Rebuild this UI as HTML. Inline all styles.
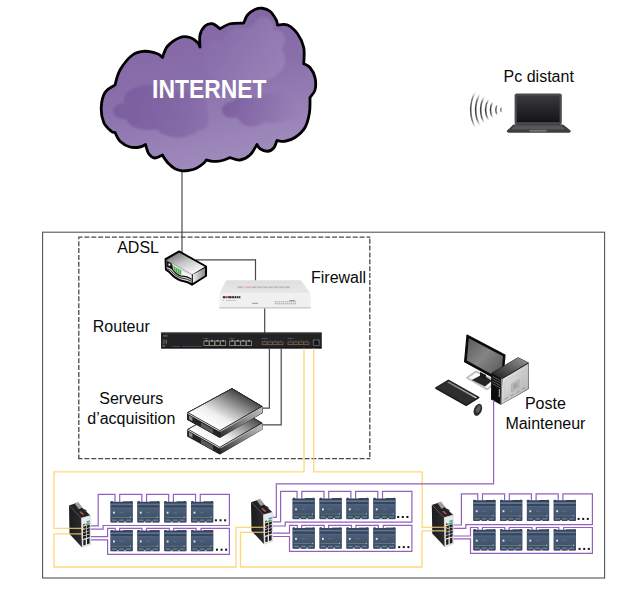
<!DOCTYPE html>
<html><head><meta charset="utf-8"><title>Reseau</title>
<style>
html,body{margin:0;padding:0;background:#fff;}
body{width:640px;height:602px;overflow:hidden;font-family:"Liberation Sans",sans-serif;}
svg{display:block;}
text{font-family:"Liberation Sans",sans-serif;}
</style></head><body>
<svg width="640" height="602" viewBox="0 0 640 602">
<defs>
<linearGradient id="cg" x1="0" y1="0" x2="0.35" y2="1">
<stop offset="0" stop-color="#7d61a0"/><stop offset="0.55" stop-color="#8a70ab"/><stop offset="1" stop-color="#9f8abc"/>
</linearGradient>
<linearGradient id="cg2" gradientUnits="userSpaceOnUse" x1="113" y1="100" x2="215" y2="135">
<stop offset="0" stop-color="#795c9d"/><stop offset="0.6" stop-color="#8368a6"/><stop offset="1" stop-color="#8d74ae"/>
</linearGradient>
<linearGradient id="cg3" gradientUnits="userSpaceOnUse" x1="222" y1="100" x2="300" y2="125">
<stop offset="0" stop-color="#7b5e9f"/><stop offset="0.5" stop-color="#8a70ab"/><stop offset="1" stop-color="#9a84b8"/>
</linearGradient>
<linearGradient id="cg4" gradientUnits="userSpaceOnUse" x1="205" y1="25" x2="285" y2="80">
<stop offset="0" stop-color="#856aa7"/><stop offset="0.5" stop-color="#8f76af"/><stop offset="1" stop-color="#9a84b8"/>
</linearGradient>
<clipPath id="cclip"><path d="M115 85 C115.83 82.5 117.08 75 120 70 C122.92 65 128.33 58.12 132.5 55 C136.67 51.88 140.83 51.46 145 51.25 C149.17 51.04 154.58 52.71 157.5 53.75 C160.42 54.79 161.67 56.88 162.5 57.5 C163.33 55.62 164.58 49.58 167.5 46.25 C170.42 42.92 176.25 38.96 180 37.5 C183.75 36.04 187.08 36.67 190 37.5 C192.92 38.33 195.83 40.92 197.5 42.5 C199.17 44.08 199.58 46.25 200 47 C200 45 199.17 38.5 200 35 C200.83 31.5 202.92 27.88 205 26 C207.08 24.12 210 23.29 212.5 23.75 C215 24.21 218.75 27.92 220 28.75 C221.67 27.92 226.04 24.71 230 23.75 C233.96 22.79 241.46 23.12 243.75 23 C244.38 21.67 245.62 17.25 247.5 15 C249.38 12.75 252.5 10.62 255 9.5 C257.5 8.38 260 7.96 262.5 8.25 C265 8.54 267.71 9.29 270 11.25 C272.29 13.21 275 17.71 276.25 20 C277.5 22.29 277.29 24.17 277.5 25 C279.17 25 284.17 23.54 287.5 25 C290.83 26.46 294.79 30 297.5 33.75 C300.21 37.5 302.71 42.5 303.75 47.5 C304.79 52.5 303.75 61.04 303.75 63.75 C304.79 64.38 308.12 65.21 310 67.5 C311.88 69.79 314.17 73.75 315 77.5 C315.83 81.25 315.83 86.67 315 90 C314.17 93.33 310.83 96.25 310 97.5 C309.92 100 310.33 107.5 309.5 112.5 C308.67 117.5 307.42 123.33 305 127.5 C302.58 131.67 298.33 135.21 295 137.5 C291.67 139.79 288 140.75 285 141.25 C282 141.75 278.33 140.62 277 140.5 C276.46 141.75 275.33 146.21 273.75 148 C272.17 149.79 269.79 151.12 267.5 151.25 C265.21 151.38 261.75 149.88 260 148.75 C258.25 147.62 257.5 145.21 257 144.5 C255.83 146.25 252.83 152.42 250 155 C247.17 157.58 243.33 159.57 240 160 C236.67 160.43 231.67 158 230 157.6 C229 158 226.17 159.37 224 160 C221.83 160.63 219.25 161.23 217 161.4 C214.75 161.57 212.29 161.23 210.5 161 C208.71 160.77 206.96 160.17 206.25 160 C205.71 160.63 204.62 162.43 203 163.8 C201.38 165.17 198.83 167.1 196.5 168.2 C194.17 169.3 191.42 169.97 189 170.4 C186.58 170.83 184.33 171.07 182 170.8 C179.67 170.53 177.25 170 175 168.8 C172.75 167.6 170.33 165.47 168.5 163.6 C166.67 161.73 165 159.03 164 157.6 C163 156.17 162.75 155.43 162.5 155 C161.25 155.5 157.29 158.21 155 158 C152.71 157.79 150.33 156 148.75 153.75 C147.17 151.5 146.04 146.04 145.5 144.5 C144.58 144.92 142.58 146.58 140 147 C137.42 147.42 133.33 147.96 130 147 C126.67 146.04 122.5 143.67 120 141.25 C117.5 138.83 115.83 133.96 115 132.5 C114.38 132.29 113.12 132.92 111.25 131.25 C109.38 129.58 105.42 126.46 103.75 122.5 C102.08 118.54 101.04 112.5 101.25 107.5 C101.46 102.5 102.71 96.25 105 92.5 C107.29 88.75 113.33 86.25 115 85 Z"/></clipPath>
<filter id="b1" x="-20%" y="-20%" width="140%" height="140%"><feGaussianBlur stdDeviation="0.8"/></filter>
<filter id="b05" x="-20%" y="-20%" width="140%" height="140%"><feGaussianBlur stdDeviation="0.45"/></filter>
<filter id="b03" x="-20%" y="-20%" width="140%" height="140%"><feGaussianBlur stdDeviation="0.3"/></filter>
<linearGradient id="mg" x1="0" y1="0" x2="0" y2="1">
<stop offset="0" stop-color="#4c5f7a"/><stop offset="1" stop-color="#41526b"/></linearGradient>
<g id="mod" filter="url(#b03)">
<rect x="0" y="0.6" width="22.4" height="20.8" rx="1" fill="#43546d"/>
<rect x="0.2" y="0" width="2.4" height="2.4" rx="0.6" fill="#33435a"/>
<rect x="19.8" y="0" width="2.4" height="2.4" rx="0.6" fill="#33435a"/>
<rect x="12.5" y="0.3" width="7.5" height="1.2" fill="#2f3e54"/>
<rect x="0.3" y="1.1" width="21.8" height="1.5" fill="#33435a"/>
<rect x="0.3" y="2.5" width="21.8" height="1.8" fill="#62758f"/>
<rect x="0.3" y="4.3" width="21.8" height="2.3" fill="#34445b"/>
<rect x="0.3" y="6.6" width="21.8" height="9.6" fill="url(#mg)"/>
<rect x="0.3" y="6.6" width="21.8" height="0.6" fill="#5a6d88"/>
<rect x="2.6" y="10.6" width="1.8" height="1.9" fill="#e6ebf2"/>
<rect x="9" y="10.6" width="4" height="1.6" fill="#55688300"/>
<rect x="9.2" y="10.8" width="3.6" height="1.3" fill="#566a86"/>
<rect x="1.5" y="16" width="17.5" height="0.7" fill="#6f8a76"/>
<rect x="19.4" y="15.6" width="1.2" height="1.4" fill="#aeb9c8"/>
<rect x="0.3" y="16.9" width="21.8" height="4.3" fill="#3b4c65"/>
<rect x="1.5" y="18.4" width="4.8" height="1.4" fill="#6c7f98"/>
<rect x="8.6" y="18.4" width="4.8" height="1.4" fill="#6c7f98"/>
<rect x="15.6" y="18.4" width="5" height="1.4" fill="#6c7f98"/>
<rect x="6.6" y="20.4" width="1.8" height="1.1" fill="#fff" opacity="0.85"/>
<rect x="13.8" y="20.4" width="1.8" height="1.1" fill="#fff" opacity="0.85"/>
</g>
<linearGradient id="swl" x1="0" y1="0" x2="1" y2="0"><stop offset="0" stop-color="#1c1c1e"/><stop offset="1" stop-color="#2c2c2f"/></linearGradient>
<g id="isw">
<!-- left dark face -->
<path d="M0 0 L12.4 12.4 L13.1 41.9 L0.5 28.6 Z" fill="url(#swl)"/>
<!-- top face -->
<path d="M0 0 L8 -2.8 L21.4 9.9 L12.4 12.4 Z" fill="#232326"/>
<!-- top connector -->
<path d="M5.8 -1.8 L9.2 -3.6 L13.4 2 L9.8 3.8 Z" fill="#9c9c9e"/>
<path d="M7.2 -2.6 L8.6 -3.2 L9.6 -1.8 L8.2 -1.2 Z" fill="#d9a27c"/>
<path d="M10.4 6.4 L11.8 5.7 L15.2 8.8 L13.8 9.6 Z" fill="#c4554a"/>
<path d="M14.6 4.4 L16 3.8 L18 5.6 L16.6 6.2 Z" fill="#3a3a40"/>
<!-- front face -->
<path d="M12.4 12.4 L21.4 9.9 L21.7 39 L13.1 41.9 Z" fill="#e9e9ea"/>
<path d="M12.4 12.4 L21.4 9.9 L21.7 39 L13.1 41.9 Z" fill="none" stroke="#bdbdbf" stroke-width="0.4"/>
<!-- colour labels -->
<path d="M17.6 15.8 L20.8 14.8 L20.8 16.4 L17.6 17.4 Z" fill="#4a90d8"/>
<path d="M16.6 18.4 L20.8 17.1 L20.8 18.8 L16.6 20.1 Z" fill="#3fae4a"/>
<path d="M14.2 18.4 L16 17.9 L16 19.6 L14.2 20.1 Z" fill="#d8702e"/>
<path d="M14.2 18.9 L15.4 18.6 L15.4 19.6 L14.2 19.9 Z" fill="#222"/>
<!-- ports 2 cols x 4 rows -->
<g fill="#1d1d20">
<path d="M14 21.2 L17 20.3 L17 22.9 L14 23.8 Z"/><path d="M17.7 20.1 L20.8 19.2 L20.8 21.8 L17.7 22.7 Z"/>
<path d="M14 24.4 L17 23.5 L17 26.1 L14 27 Z"/><path d="M17.7 23.3 L20.8 22.4 L20.8 25 L17.7 25.9 Z"/>
<path d="M14 27.6 L17 26.7 L17 29.3 L14 30.2 Z"/><path d="M17.7 26.5 L20.8 25.6 L20.8 28.2 L17.7 29.1 Z"/>
<path d="M14 30.8 L17 29.9 L17 32.5 L14 33.4 Z"/><path d="M17.7 29.7 L20.8 28.8 L20.8 31.4 L17.7 32.3 Z"/>
<path d="M14.3 34.6 L16.7 33.9 L16.7 39.2 L14.3 40 Z"/><path d="M18 33.4 L20.6 32.6 L20.6 38 L18 38.8 Z"/>
</g>
</g>
</defs>
<rect width="640" height="602" fill="#fff"/>
<rect x="42.6" y="232.2" width="562" height="345.8" fill="none" stroke="#555" stroke-width="1.1"/>
<g fill="none" stroke="#4a4a4a" stroke-width="1.3" stroke-dasharray="5 1.88"><line x1="78.2" y1="237.2" x2="370.4" y2="237.2" stroke-dashoffset="0.7"/><line x1="78.2" y1="458.7" x2="370.4" y2="458.7" stroke-dashoffset="0.7"/><line x1="78.8" y1="237.2" x2="78.8" y2="458.7" stroke-dashoffset="2.85"/><line x1="369.8" y1="237.2" x2="369.8" y2="458.7" stroke-dashoffset="5.4"/></g>
<line x1="182" y1="168" x2="182" y2="253" stroke="#4a4a4a" stroke-width="1.2"/>
<path d="M115 85 C115.83 82.5 117.08 75 120 70 C122.92 65 128.33 58.12 132.5 55 C136.67 51.88 140.83 51.46 145 51.25 C149.17 51.04 154.58 52.71 157.5 53.75 C160.42 54.79 161.67 56.88 162.5 57.5 C163.33 55.62 164.58 49.58 167.5 46.25 C170.42 42.92 176.25 38.96 180 37.5 C183.75 36.04 187.08 36.67 190 37.5 C192.92 38.33 195.83 40.92 197.5 42.5 C199.17 44.08 199.58 46.25 200 47 C200 45 199.17 38.5 200 35 C200.83 31.5 202.92 27.88 205 26 C207.08 24.12 210 23.29 212.5 23.75 C215 24.21 218.75 27.92 220 28.75 C221.67 27.92 226.04 24.71 230 23.75 C233.96 22.79 241.46 23.12 243.75 23 C244.38 21.67 245.62 17.25 247.5 15 C249.38 12.75 252.5 10.62 255 9.5 C257.5 8.38 260 7.96 262.5 8.25 C265 8.54 267.71 9.29 270 11.25 C272.29 13.21 275 17.71 276.25 20 C277.5 22.29 277.29 24.17 277.5 25 C279.17 25 284.17 23.54 287.5 25 C290.83 26.46 294.79 30 297.5 33.75 C300.21 37.5 302.71 42.5 303.75 47.5 C304.79 52.5 303.75 61.04 303.75 63.75 C304.79 64.38 308.12 65.21 310 67.5 C311.88 69.79 314.17 73.75 315 77.5 C315.83 81.25 315.83 86.67 315 90 C314.17 93.33 310.83 96.25 310 97.5 C309.92 100 310.33 107.5 309.5 112.5 C308.67 117.5 307.42 123.33 305 127.5 C302.58 131.67 298.33 135.21 295 137.5 C291.67 139.79 288 140.75 285 141.25 C282 141.75 278.33 140.62 277 140.5 C276.46 141.75 275.33 146.21 273.75 148 C272.17 149.79 269.79 151.12 267.5 151.25 C265.21 151.38 261.75 149.88 260 148.75 C258.25 147.62 257.5 145.21 257 144.5 C255.83 146.25 252.83 152.42 250 155 C247.17 157.58 243.33 159.57 240 160 C236.67 160.43 231.67 158 230 157.6 C229 158 226.17 159.37 224 160 C221.83 160.63 219.25 161.23 217 161.4 C214.75 161.57 212.29 161.23 210.5 161 C208.71 160.77 206.96 160.17 206.25 160 C205.71 160.63 204.62 162.43 203 163.8 C201.38 165.17 198.83 167.1 196.5 168.2 C194.17 169.3 191.42 169.97 189 170.4 C186.58 170.83 184.33 171.07 182 170.8 C179.67 170.53 177.25 170 175 168.8 C172.75 167.6 170.33 165.47 168.5 163.6 C166.67 161.73 165 159.03 164 157.6 C163 156.17 162.75 155.43 162.5 155 C161.25 155.5 157.29 158.21 155 158 C152.71 157.79 150.33 156 148.75 153.75 C147.17 151.5 146.04 146.04 145.5 144.5 C144.58 144.92 142.58 146.58 140 147 C137.42 147.42 133.33 147.96 130 147 C126.67 146.04 122.5 143.67 120 141.25 C117.5 138.83 115.83 133.96 115 132.5 C114.38 132.29 113.12 132.92 111.25 131.25 C109.38 129.58 105.42 126.46 103.75 122.5 C102.08 118.54 101.04 112.5 101.25 107.5 C101.46 102.5 102.71 96.25 105 92.5 C107.29 88.75 113.33 86.25 115 85 Z" fill="url(#cg)"/>
<g clip-path="url(#cclip)">
<g filter="url(#b1)" fill="url(#cg4)"><ellipse cx="230" cy="62" rx="26" ry="20"/><ellipse cx="258" cy="48" rx="24" ry="22"/><ellipse cx="272" cy="60" rx="13" ry="15"/><ellipse cx="252" cy="70" rx="26" ry="13"/><ellipse cx="264" cy="27" rx="10" ry="10"/><ellipse cx="214" cy="52" rx="10" ry="12"/><ellipse cx="240" cy="40" rx="16" ry="12"/><ellipse cx="276" cy="40" rx="9" ry="10"/></g>
<g filter="url(#b1)" fill="url(#cg2)"><ellipse cx="125" cy="111" rx="12" ry="8"/><ellipse cx="148" cy="100" rx="24" ry="15"/><ellipse cx="150" cy="118" rx="24" ry="12"/><ellipse cx="178" cy="122" rx="24" ry="15.5"/><ellipse cx="185" cy="105" rx="22" ry="14"/><ellipse cx="200" cy="118" rx="9" ry="12"/></g>
<g filter="url(#b1)" fill="url(#cg3)"><ellipse cx="232" cy="110" rx="10" ry="8"/><ellipse cx="246" cy="108" rx="16" ry="12"/><ellipse cx="252" cy="116" rx="14" ry="10.5"/><ellipse cx="268" cy="106" rx="14" ry="13"/><ellipse cx="285" cy="106" rx="17" ry="14"/><ellipse cx="272" cy="116" rx="14" ry="7"/></g>
</g>
<path d="M115 85 C115.83 82.5 117.08 75 120 70 C122.92 65 128.33 58.12 132.5 55 C136.67 51.88 140.83 51.46 145 51.25 C149.17 51.04 154.58 52.71 157.5 53.75 C160.42 54.79 161.67 56.88 162.5 57.5 C163.33 55.62 164.58 49.58 167.5 46.25 C170.42 42.92 176.25 38.96 180 37.5 C183.75 36.04 187.08 36.67 190 37.5 C192.92 38.33 195.83 40.92 197.5 42.5 C199.17 44.08 199.58 46.25 200 47 C200 45 199.17 38.5 200 35 C200.83 31.5 202.92 27.88 205 26 C207.08 24.12 210 23.29 212.5 23.75 C215 24.21 218.75 27.92 220 28.75 C221.67 27.92 226.04 24.71 230 23.75 C233.96 22.79 241.46 23.12 243.75 23 C244.38 21.67 245.62 17.25 247.5 15 C249.38 12.75 252.5 10.62 255 9.5 C257.5 8.38 260 7.96 262.5 8.25 C265 8.54 267.71 9.29 270 11.25 C272.29 13.21 275 17.71 276.25 20 C277.5 22.29 277.29 24.17 277.5 25 C279.17 25 284.17 23.54 287.5 25 C290.83 26.46 294.79 30 297.5 33.75 C300.21 37.5 302.71 42.5 303.75 47.5 C304.79 52.5 303.75 61.04 303.75 63.75 C304.79 64.38 308.12 65.21 310 67.5 C311.88 69.79 314.17 73.75 315 77.5 C315.83 81.25 315.83 86.67 315 90 C314.17 93.33 310.83 96.25 310 97.5 C309.92 100 310.33 107.5 309.5 112.5 C308.67 117.5 307.42 123.33 305 127.5 C302.58 131.67 298.33 135.21 295 137.5 C291.67 139.79 288 140.75 285 141.25 C282 141.75 278.33 140.62 277 140.5 C276.46 141.75 275.33 146.21 273.75 148 C272.17 149.79 269.79 151.12 267.5 151.25 C265.21 151.38 261.75 149.88 260 148.75 C258.25 147.62 257.5 145.21 257 144.5 C255.83 146.25 252.83 152.42 250 155 C247.17 157.58 243.33 159.57 240 160 C236.67 160.43 231.67 158 230 157.6 C229 158 226.17 159.37 224 160 C221.83 160.63 219.25 161.23 217 161.4 C214.75 161.57 212.29 161.23 210.5 161 C208.71 160.77 206.96 160.17 206.25 160 C205.71 160.63 204.62 162.43 203 163.8 C201.38 165.17 198.83 167.1 196.5 168.2 C194.17 169.3 191.42 169.97 189 170.4 C186.58 170.83 184.33 171.07 182 170.8 C179.67 170.53 177.25 170 175 168.8 C172.75 167.6 170.33 165.47 168.5 163.6 C166.67 161.73 165 159.03 164 157.6 C163 156.17 162.75 155.43 162.5 155 C161.25 155.5 157.29 158.21 155 158 C152.71 157.79 150.33 156 148.75 153.75 C147.17 151.5 146.04 146.04 145.5 144.5 C144.58 144.92 142.58 146.58 140 147 C137.42 147.42 133.33 147.96 130 147 C126.67 146.04 122.5 143.67 120 141.25 C117.5 138.83 115.83 133.96 115 132.5 C114.38 132.29 113.12 132.92 111.25 131.25 C109.38 129.58 105.42 126.46 103.75 122.5 C102.08 118.54 101.04 112.5 101.25 107.5 C101.46 102.5 102.71 96.25 105 92.5 C107.29 88.75 113.33 86.25 115 85 Z" fill="none" stroke="#000" stroke-width="2.8" stroke-linejoin="round"/>
<text x="209.3" y="98.2" text-anchor="middle" font-size="25.4" font-weight="bold" fill="#fff" textLength="114.5" lengthAdjust="spacingAndGlyphs">INTERNET</text>
<text x="503.6" y="82" font-size="16" fill="#0a0a0a" text-anchor="start">Pc distant</text>
<text x="117.2" y="253" font-size="16" fill="#0a0a0a" text-anchor="start">ADSL</text>
<text x="311" y="282.8" font-size="16" fill="#0a0a0a" text-anchor="start">Firewall</text>
<text x="92.8" y="332" font-size="16" fill="#0a0a0a" text-anchor="start">Routeur</text>
<text x="131.3" y="404" font-size="16" fill="#0a0a0a" text-anchor="middle">Serveurs</text>
<text x="131.3" y="423.7" font-size="16" fill="#0a0a0a" text-anchor="middle">d’acquisition</text>
<text x="545.4" y="409.3" font-size="16" fill="#0a0a0a" text-anchor="middle">Poste</text>
<text x="545.4" y="428.8" font-size="16" fill="#0a0a0a" text-anchor="middle">Mainteneur</text>
<g>
<linearGradient id="lpscr" x1="0" y1="0" x2="0" y2="1"><stop offset="0" stop-color="#3a3a3c"/><stop offset="1" stop-color="#141416"/></linearGradient>
<rect x="514.6" y="93.4" width="47.2" height="31.6" rx="2.2" fill="#4b4b4e"/>
<rect x="516.8" y="95.6" width="42.8" height="26.6" fill="url(#lpscr)"/>
<path d="M513.4 124.4 L563 124.4 L570.6 130.6 Q571 132.6 568.6 132.8 L508.8 132.8 Q506.4 132.6 507 130.6 Z" fill="#3d3d40"/>
<path d="M515.2 125.6 L561.4 125.6 L565.6 129.4 L511 129.4 Z" fill="#58585c"/>
<rect x="529.6" y="130" width="17" height="1.6" fill="#77777b"/>
</g>
<linearGradient id="wfg" x1="0" y1="0" x2="0" y2="1"><stop offset="0" stop-color="#555" stop-opacity="0"/><stop offset="0.2" stop-color="#4a4a4a" stop-opacity="0.8"/><stop offset="0.5" stop-color="#3a3a3a" stop-opacity="1"/><stop offset="0.8" stop-color="#4a4a4a" stop-opacity="0.8"/><stop offset="1" stop-color="#555" stop-opacity="0"/></linearGradient>
<g fill="none" stroke="url(#wfg)" stroke-linecap="butt" filter="url(#b03)">
<path d="M501.39 106.91 A6.85 6.85 0 0 0 501.39 112.69" stroke-width="1.2" opacity="0.85"/>
<path d="M497.18 104.49 A11.7 11.7 0 0 0 497.18 115.11" stroke-width="1.4" opacity="0.95"/>
<path d="M492.59 101.82 A17 17 0 0 0 492.59 117.78" stroke-width="1.5" opacity="1"/>
<path d="M488.49 99.21 A21.85 21.85 0 0 0 488.49 120.39" stroke-width="1.6" opacity="1"/>
<path d="M484.14 96.53 A26.95 26.95 0 0 0 484.14 123.07" stroke-width="1.6" opacity="1"/>
<path d="M479.75 94.04 A32 32 0 0 0 479.75 125.56" stroke-width="1.6" opacity="1"/>
<path d="M475.28 91.89 A36.95 36.95 0 0 0 475.28 127.71" stroke-width="1.5" opacity="0.95"/>
</g>
<g>
<linearGradient id="adt" x1="0.1" y1="0" x2="0.8" y2="1"><stop offset="0" stop-color="#6a6a6a"/><stop offset="0.45" stop-color="#c4c4c4"/><stop offset="0.9" stop-color="#f7f7f7"/></linearGradient>
<linearGradient id="adr" x1="0" y1="0" x2="1" y2="0"><stop offset="0" stop-color="#f0f0f0"/><stop offset="1" stop-color="#8a8a8a"/></linearGradient>
<line x1="196" y1="259.9" x2="256" y2="259.9" stroke="#4a4a4a" stroke-width="1.2"/>
<line x1="255.5" y1="259.4" x2="255.5" y2="281" stroke="#4a4a4a" stroke-width="1.2"/>
<path d="M179.1 251.3 L206.2 266.4 L206.2 275.8 L192.1 284.8 Q188.4 282.2 184 281.4 Q177.6 280.4 172.6 275.6 Q169.4 271.8 165.8 269.8 L165.4 259 Z" fill="#0c0c0c" stroke="#000" stroke-width="1.7" stroke-linejoin="round"/>
<path d="M179.1 252.5 L204.8 266.8 L192.2 274.4 L166.6 260 Z" fill="url(#adt)"/>
<path d="M192.9 274.6 L205 268 L205 275.4 L192.9 283 Z" fill="url(#adr)"/>
<path d="M166.6 260 L191.7 274.2 L191.7 283 Q188 280.8 184 280.2 Q178 279.2 173.4 274.8 Q170 271 166.8 269 Z" fill="#d9d9d9"/>
<path d="M166.6 260.4 L171.6 263.2 Q173.4 266 172.8 269.4 Q170.4 268.6 166.8 266.6 Z" fill="#1a1a1a"/>
<rect x="168.5" y="263.6" width="1.8" height="2" fill="#fafafa"/>
<path d="M182 271 L191.5 275.2 L191.5 278.6 Q187 275.6 182 276 Z" fill="#f6f6f6"/>
<path d="M166.8 266.4 Q171 266.8 173.4 270.6 Q176.4 274.8 181.6 276.2 Q186.6 275.8 191.5 279.2" fill="none" stroke="#111" stroke-width="1.1"/>
<path d="M166.8 268.6 Q170.6 269.4 173.2 273.2 Q176.6 277.2 182 278.2 Q187 278.4 191.5 281.4" fill="none" stroke="#222" stroke-width="0.9"/>
<path d="M173.2 266.2 L181.2 270.5 L180.8 274.8 Q176.6 273.4 174 269.8 Z" fill="#2fb243"/>
<path d="M175.4 267.6 L175.8 270.6 M177.4 268.7 L177.6 272.2 M179.4 269.8 L179.4 273.6" stroke="#c9f3cd" stroke-width="0.55"/>
</g>
<g>
<linearGradient id="fwt" x1="0" y1="0" x2="0" y2="1"><stop offset="0" stop-color="#dedede"/><stop offset="1" stop-color="#e8e8e8"/></linearGradient>
<line x1="264.7" y1="308" x2="264.7" y2="333" stroke="#4a4a4a" stroke-width="1.2"/>
<path d="M226.2 280.2 L300.8 280.2 L310.6 293.6 L219.4 293.6 Z" fill="url(#fwt)"/>
<rect x="219.4" y="293.4" width="91.2" height="14.6" rx="0.8" fill="#f0f0f1"/>
<rect x="219.4" y="307" width="91.2" height="1.6" fill="#cfcfd1"/>
<g filter="url(#b05)" opacity="0.7">
<rect x="237.6" y="286.4" width="7" height="1.8" fill="#a9a9ab"/><rect x="245.4" y="286.4" width="5.4" height="1.8" fill="#e59aaa"/>
<rect x="251.6" y="286.4" width="38.4" height="1.8" fill="#a9a9ab"/>
<rect x="243" y="286.2" width="0.9" height="2.2" fill="#e4e4e4"/><rect x="256.5" y="286.2" width="0.9" height="2.2" fill="#e4e4e4"/>
<rect x="262" y="286.2" width="0.9" height="2.2" fill="#e4e4e4"/><rect x="267.5" y="286.2" width="0.9" height="2.2" fill="#e4e4e4"/>
<rect x="273" y="286.2" width="0.9" height="2.2" fill="#e4e4e4"/><rect x="278.5" y="286.2" width="0.9" height="2.2" fill="#e4e4e4"/>
<rect x="284" y="286.2" width="0.9" height="2.2" fill="#e4e4e4"/>
</g>
<g filter="url(#b03)">
<rect x="222.8" y="296.2" width="2.6" height="2" fill="#2a2a2a"/><rect x="225.6" y="296.2" width="2.2" height="2" fill="#b5433a"/>
<rect x="228.2" y="296.2" width="12.2" height="2" fill="#2a2a2a"/>
<rect x="231.6" y="296" width="0.5" height="2.4" fill="#efeff0"/><rect x="234" y="296" width="0.5" height="2.4" fill="#efeff0"/>
<rect x="236.2" y="296" width="0.5" height="2.4" fill="#efeff0"/><rect x="238.4" y="296" width="0.5" height="2.4" fill="#efeff0"/>
<rect x="223" y="299.8" width="1" height="1" fill="#e6b84a"/>
<rect x="226" y="300" width="10" height="0.8" fill="#bdbdbf"/>
<rect x="252" y="302.8" width="6" height="1.2" fill="#a8a8aa"/>
<g fill="#9b9b9e">
<rect x="274.6" y="301.2" width="1.2" height="1.1"/><rect x="274.6" y="303.2" width="1.2" height="1.1"/><rect x="276.6" y="301.2" width="1.2" height="1.1"/><rect x="276.6" y="303.2" width="1.2" height="1.1"/><rect x="278.6" y="301.2" width="1.2" height="1.1"/><rect x="278.6" y="303.2" width="1.2" height="1.1"/><rect x="280.6" y="301.2" width="1.2" height="1.1"/><rect x="280.6" y="303.2" width="1.2" height="1.1"/><rect x="282.6" y="301.2" width="1.2" height="1.1"/><rect x="282.6" y="303.2" width="1.2" height="1.1"/><rect x="284.6" y="301.2" width="1.2" height="1.1"/><rect x="284.6" y="303.2" width="1.2" height="1.1"/><rect x="286.6" y="301.2" width="1.2" height="1.1"/><rect x="286.6" y="303.2" width="1.2" height="1.1"/><rect x="288.6" y="301.2" width="1.2" height="1.1"/><rect x="288.6" y="303.2" width="1.2" height="1.1"/><rect x="290.6" y="301.2" width="1.2" height="1.1"/><rect x="290.6" y="303.2" width="1.2" height="1.1"/><rect x="292.6" y="301.2" width="1.2" height="1.1"/><rect x="292.6" y="303.2" width="1.2" height="1.1"/><rect x="294.6" y="301.2" width="1.2" height="1.1"/><rect x="294.6" y="303.2" width="1.2" height="1.1"/></g>
<rect x="289.4" y="300.2" width="5.6" height="0.9" fill="#8a8a8d"/>
</g>
</g>
<g>
<rect x="161" y="332.6" width="160.8" height="15.8" rx="0.6" fill="#232326"/>
<rect x="161" y="332.6" width="160.8" height="1" fill="#3b3b3f"/>
<rect x="161" y="347.2" width="160.8" height="1.2" fill="#141416"/>
<path d="M163 336.6 l0.8 -1.4 l0.8 1.4 l0.8 -1.8 l0.8 1.8 l0.8 -1.4 l0.8 1.4" fill="none" stroke="#8c8c90" stroke-width="0.5"/>
<rect x="162.6" y="339.4" width="2.2" height="5" fill="#4a4a4e"/><rect x="165.6" y="339.8" width="1.3" height="3.8" fill="#80684c"/>
<rect x="162.4" y="345.6" width="2.6" height="0.9" fill="#9a9a9e"/>
<rect x="172" y="346.2" width="8" height="0.7" fill="#55555a"/><rect x="182" y="346.2" width="20" height="0.7" fill="#55555a"/>
<g filter="url(#b03)">
<rect x="203.4" y="338.3" width="5" height="0.6" fill="#6c6c70"/>
<rect x="203.9" y="341" width="5.1" height="4.5" fill="#1b1b1d" stroke="#9b978d" stroke-width="0.8"/><rect x="205.6" y="339.9" width="1.7" height="1.7" fill="#aaa69c"/><rect x="209.45" y="341" width="5.1" height="4.5" fill="#1b1b1d" stroke="#9b978d" stroke-width="0.8"/><rect x="211.15" y="339.9" width="1.7" height="1.7" fill="#aaa69c"/><rect x="215" y="341" width="5.1" height="4.5" fill="#1b1b1d" stroke="#9b978d" stroke-width="0.8"/><rect x="216.7" y="339.9" width="1.7" height="1.7" fill="#aaa69c"/><rect x="220.55" y="341" width="5.1" height="4.5" fill="#1b1b1d" stroke="#9b978d" stroke-width="0.8"/><rect x="222.25" y="339.9" width="1.7" height="1.7" fill="#aaa69c"/>
<rect x="229.2" y="338.3" width="5" height="0.6" fill="#6c6c70"/>
<rect x="229.7" y="341" width="5.1" height="4.5" fill="#1b1b1d" stroke="#9b978d" stroke-width="0.8"/><rect x="231.4" y="339.9" width="1.7" height="1.7" fill="#aaa69c"/><rect x="235.25" y="341" width="5.1" height="4.5" fill="#1b1b1d" stroke="#9b978d" stroke-width="0.8"/><rect x="236.95" y="339.9" width="1.7" height="1.7" fill="#aaa69c"/><rect x="240.8" y="341" width="5.1" height="4.5" fill="#1b1b1d" stroke="#9b978d" stroke-width="0.8"/><rect x="242.5" y="339.9" width="1.7" height="1.7" fill="#aaa69c"/><rect x="246.35" y="341" width="5.1" height="4.5" fill="#1b1b1d" stroke="#9b978d" stroke-width="0.8"/><rect x="248.05" y="339.9" width="1.7" height="1.7" fill="#aaa69c"/>
<rect x="261.8" y="341.5" width="21.6" height="3.5" fill="#75634e"/>
<rect x="261.8" y="338.4" width="6" height="0.6" fill="#6c6c70"/>
<rect x="262.6" y="342.3" width="4.3" height="1.9" fill="#2a2727"/><rect x="264.4" y="340" width="0.7" height="0.7" fill="#77777b"/><rect x="267.85" y="342.3" width="4.3" height="1.9" fill="#2a2727"/><rect x="269.65" y="340" width="0.7" height="0.7" fill="#77777b"/><rect x="273.1" y="342.3" width="4.3" height="1.9" fill="#2a2727"/><rect x="274.9" y="340" width="0.7" height="0.7" fill="#77777b"/><rect x="278.35" y="342.3" width="4.3" height="1.9" fill="#2a2727"/><rect x="280.15" y="340" width="0.7" height="0.7" fill="#77777b"/>
<rect x="287.6" y="341.5" width="21.6" height="3.5" fill="#75634e"/>
<rect x="287.6" y="338.4" width="6" height="0.6" fill="#6c6c70"/>
<rect x="288.4" y="342.3" width="4.3" height="1.9" fill="#2a2727"/><rect x="290.2" y="340" width="0.7" height="0.7" fill="#77777b"/><rect x="293.65" y="342.3" width="4.3" height="1.9" fill="#2a2727"/><rect x="295.45" y="340" width="0.7" height="0.7" fill="#77777b"/><rect x="298.9" y="342.3" width="4.3" height="1.9" fill="#2a2727"/><rect x="300.7" y="340" width="0.7" height="0.7" fill="#77777b"/><rect x="304.15" y="342.3" width="4.3" height="1.9" fill="#2a2727"/><rect x="305.95" y="340" width="0.7" height="0.7" fill="#77777b"/>
</g>
<rect x="312.8" y="339.2" width="7" height="6.8" rx="1" fill="#55575c"/><rect x="314" y="341" width="4.6" height="4" fill="#18181a"/><rect x="315.4" y="340" width="1.8" height="1.4" fill="#18181a"/>
</g>
<g fill="none" stroke="#4a4a4a" stroke-width="1.2"><path d="M269.4 348.4 L269.4 408.2 L261 408.2"/><path d="M281.2 348.4 L281.2 424.8 L261 424.8"/></g>
<linearGradient id="svt" gradientUnits="userSpaceOnUse" x1="203.5" y1="421.7" x2="224.4" y2="384.1"><stop offset="0" stop-color="#ffffff"/><stop offset="0.28" stop-color="#f0f0f0"/><stop offset="0.6" stop-color="#a8a8a8"/><stop offset="1" stop-color="#454545"/></linearGradient>
<linearGradient id="svr" x1="0" y1="1" x2="1" y2="0"><stop offset="0" stop-color="#2a2a2a"/><stop offset="0.45" stop-color="#777"/><stop offset="1" stop-color="#c4c4c4"/></linearGradient>
<g id="srv">
<path d="M232 388.2 L262.6 406.4 L262.6 413 L219.8 438 L187.2 419.8 L187.2 412.6 Z" fill="#1c1c1c"/>
<path d="M232 388.6 L261.8 406.4 L219.8 430.6 L188 412.6 Z" fill="url(#svt)" stroke="#1e1e1e" stroke-width="0.7"/>
<path d="M220.4 431.6 L262.4 407.6 L262.4 412.8 L220.4 437.4 Z" fill="url(#svr)"/>
<path d="M220.4 431.3 L262.4 407.2" stroke="#f4f4f4" stroke-width="0.8" fill="none"/>
<path d="M187.6 413.6 L219.4 431.6 L219.4 437.4 L187.6 419.4 Z" fill="#232323"/>
<path d="M187.6 413.3 L219.6 431.3" stroke="#ededed" stroke-width="0.9" fill="none"/>
<path d="M201 422.4 L213 429.2 L213 433.6 L201 426.8 Z" fill="#5a5a5a"/>
<path d="M189 415.4 L192.4 417.3 L192.4 421.2 L189 419.3 Z" fill="#8c8c8c"/>
<rect x="190" y="417.2" width="1.3" height="1.3" fill="#35c24a"/>
</g>
<use href="#srv" transform="translate(0,16.6)"/>
<use href="#srv"/>
<g>
<linearGradient id="mon" x1="0" y1="0" x2="1" y2="1"><stop offset="0" stop-color="#5a5a5a"/><stop offset="0.45" stop-color="#858585"/><stop offset="1" stop-color="#505050"/></linearGradient>
<linearGradient id="twr" x1="0" y1="0" x2="1" y2="1"><stop offset="0" stop-color="#f1f1f1"/><stop offset="1" stop-color="#a6a6a6"/></linearGradient>
<linearGradient id="twt" x1="0" y1="1" x2="1" y2="0"><stop offset="0" stop-color="#1c1c1c"/><stop offset="1" stop-color="#9a9a9a"/></linearGradient>
<!-- stand -->
<path d="M467 377.8 L476 371.4 L496 381.6 L487.2 389.4 Z" fill="#fdfdfd" stroke="#bfbfbf" stroke-width="1.9" stroke-linejoin="round"/>
<path d="M471.8 380 L482.2 374.6 L492 380.8 L485 386.6 Z" fill="#262626"/>
<path d="M480 372 L486 375 L486 380 L480 377 Z" fill="#1a1a1a"/>
<!-- monitor -->
<path d="M467 335 L505 355 L502.4 382.4 L464.6 361.8 Z" fill="#0b0b0b" stroke="#0b0b0b" stroke-width="1.2" stroke-linejoin="round"/>
<path d="M468.8 338.2 L503 356.2 L500.8 379.2 L466.8 360.4 Z" fill="url(#mon)"/>
<!-- keyboard -->
<linearGradient id="kbs" gradientUnits="userSpaceOnUse" x1="449" y1="381" x2="477" y2="397"><stop offset="0" stop-color="#8a8a8a"/><stop offset="0.75" stop-color="#a8a8a8"/><stop offset="1" stop-color="#e6e6e6"/></linearGradient>
<path d="M435.2 387.6 L448.4 379.6 L479.4 397 L479.4 398 L466.2 406.2 L435.2 388.8 Z" fill="#1c1c1c"/>
<path d="M436.6 387.7 L448.4 380.6 L478 397.2 L466.2 404.4 Z" fill="#2e2e2e"/>
<path d="M448.6 381.6 L477 397.4 L475.6 398.3 L447.4 382.4 Z" fill="url(#kbs)"/>
<!-- mouse -->
<ellipse cx="477.9" cy="409.8" rx="3.9" ry="6.3" transform="rotate(22 477.9 409.8)" fill="#2e2e2e"/>
<ellipse cx="478.3" cy="409" rx="1.9" ry="3.8" transform="rotate(22 478.3 409)" fill="#5c5c5c"/>
<!-- tower -->
<path d="M491.4 373 L518 357.2 L528.7 362.4 L528.7 389 L500.8 404.8 L491 399.4 Z" fill="#161616"/>
<path d="M492 373.2 L518 357.8 L528.2 362.6 L501.8 378.4 Z" fill="url(#twt)"/>
<path d="M502.4 379 L528.4 363.4 L528.4 388.8 L501.4 404.2 Z" fill="url(#twr)"/>
<path d="M505 381.8 L526.2 369.4 L526.2 386 L504.4 398.8 Z" fill="none" stroke="#c9c9c9" stroke-width="0.8"/>
<path d="M511.6 384 L519.2 379.6 L519.2 387.6 L511.6 392 Z" fill="#bdbdbd" stroke="#9a9a9a" stroke-width="0.5"/>
<path d="M513.2 384.8 L517.6 382.2 L517.6 386.8 L513.2 389.4 Z" fill="#a2a2a2"/>
<path d="M504.6 399.4 L508 397.4 M510.4 396 L513.8 394 M516.2 392.6 L519.6 390.6 M522 389.2 L525.4 387.2" stroke="#8c8c8c" stroke-width="0.9"/>
<path d="M491.6 374 L501.4 379.2 L500.6 403.8 L491.2 398.8 Z" fill="#0d0d0d"/>
<path d="M492.6 376.4 L500.6 380.8 M492.6 378.8 L500.6 383.2 M492.5 381.2 L500.5 385.6 M492.4 383.6 L500.4 388" stroke="#666" stroke-width="0.9"/>
<path d="M499.4 389 L499.2 397" stroke="#d8d8d8" stroke-width="0.8"/>
<path d="M501.6 378.4 L501 404.2" stroke="#dcdcdc" stroke-width="0.6"/>
</g>
<g fill="none" stroke="#ffd878" stroke-width="1.3" stroke-linejoin="miter">
<path d="M304 348.4 L304 471.8 L54 471.8 L54 528.4 L84.6 528.4"/>
<path d="M313.7 348.4 L313.7 471.8 L422.2 471.8 L422.2 527.3 L447 527.3"/>
<path d="M83 533.9 L54 533.9 L54 567 L236 567 L236 527.3 L266 527.3"/>
<path d="M265.6 532.3 L240.5 532.3 L240.5 567 L421.9 567 L421.9 530.8 L446.6 530.8"/>
</g>
<g fill="none" stroke="#9360bd" stroke-width="1.2">
<path d="M90.6 525.8 L98.2 525.8 L98.2 494.4 L115 494.4 L115 502.1 M119.7 502.1 L119.7 494.4 L141.85 494.4 L141.85 502.1 M146.55 502.1 L146.55 494.4 L168.7 494.4 L168.7 502.1 M173.4 502.1 L173.4 494.4 L195.55 494.4 L195.55 502.1 M200.25 502.1 L200.25 494.4 L229.4 494.4 L229.4 525.5 L103.1 525.5 L103.1 529.2 L90.6 529.2"/>
<path d="M90.6 536.6 L107.6 536.6 L107.6 528.3 L115.2 528.3 L115.2 530.9 M119.6 530.9 L119.6 528.3 L142.05 528.3 L142.05 530.9 M146.45 530.9 L146.45 528.3 L169.3 528.3 L169.3 530.9 M173.7 530.9 L173.7 528.3 L196.15 528.3 L196.15 530.9 M201.05 530.9 L201.05 528.3 L229.4 528.3 L229.4 554.4 L107.6 554.4 L107.6 539.9 L90.6 539.9"/>
</g>
<use href="#mod" x="110.4" y="501.1"/><use href="#mod" x="110.4" y="529.9"/><use href="#mod" x="137.25" y="501.1"/><use href="#mod" x="137.25" y="529.9"/><use href="#mod" x="164.1" y="501.1"/><use href="#mod" x="164.1" y="529.9"/><use href="#mod" x="190.95" y="501.1"/><use href="#mod" x="190.95" y="529.9"/>
<rect x="214.95" y="519.3" width="2" height="2" fill="#111"/><rect x="215.95" y="548.7" width="2" height="2" fill="#111"/><rect x="219.55" y="519.3" width="2" height="2" fill="#111"/><rect x="220.55" y="548.7" width="2" height="2" fill="#111"/><rect x="224.15" y="519.3" width="2" height="2" fill="#111"/><rect x="225.15" y="548.7" width="2" height="2" fill="#111"/>
<g fill="none" stroke="#9360bd" stroke-width="1.2">
<path d="M272.6 521.9 L280.6 521.9 L280.6 491.3 L297.1 491.3 L297.1 498.8 M301.8 498.8 L301.8 491.3 L324 491.3 L324 498.8 M328.7 498.8 L328.7 491.3 L350.9 491.3 L350.9 498.8 M355.6 498.8 L355.6 491.3 L377.8 491.3 L377.8 498.8 M382.5 498.8 L382.5 491.3 L411.9 491.3 L411.9 522.2 L285.2 522.2 L285.2 526 L272.6 526"/>
<path d="M272.6 533.2 L289.5 533.2 L289.5 525.4 L297.3 525.4 L297.3 528.3 M301.7 528.3 L301.7 525.4 L324.2 525.4 L324.2 528.3 M328.6 528.3 L328.6 525.4 L351.5 525.4 L351.5 528.3 M355.9 528.3 L355.9 525.4 L378.4 525.4 L378.4 528.3 M383.3 528.3 L383.3 525.4 L411.9 525.4 L411.9 551.4 L289.5 551.4 L289.5 536.5 L272.6 536.5"/>
<path d="M272.6 517.4 L276.3 517.4 L276.3 483.8 L493.6 483.8 L493.6 400"/>
</g>
<use href="#mod" x="292.5" y="497.8"/><use href="#mod" x="292.5" y="527.3"/><use href="#mod" x="319.4" y="497.8"/><use href="#mod" x="319.4" y="527.3"/><use href="#mod" x="346.3" y="497.8"/><use href="#mod" x="346.3" y="527.3"/><use href="#mod" x="373.2" y="497.8"/><use href="#mod" x="373.2" y="527.3"/>
<rect x="397.2" y="516" width="2" height="2" fill="#111"/><rect x="398.2" y="546.1" width="2" height="2" fill="#111"/><rect x="401.8" y="516" width="2" height="2" fill="#111"/><rect x="402.8" y="546.1" width="2" height="2" fill="#111"/><rect x="406.4" y="516" width="2" height="2" fill="#111"/><rect x="407.4" y="546.1" width="2" height="2" fill="#111"/>
<g fill="none" stroke="#9360bd" stroke-width="1.2">
<path d="M453.4 525 L461.4 525 L461.4 493.9 L477.8 493.9 L477.8 500.7 M482.5 500.7 L482.5 493.9 L504.6 493.9 L504.6 500.7 M509.3 500.7 L509.3 493.9 L531.4 493.9 L531.4 500.7 M536.1 500.7 L536.1 493.9 L558.2 493.9 L558.2 500.7 M562.9 500.7 L562.9 493.9 L592.4 493.9 L592.4 524.6 L465.8 524.6 L465.8 528.4 L453.4 528.4"/>
<path d="M453.4 536 L470.5 536 L470.5 527.5 L478 527.5 L478 530.1 M482.4 530.1 L482.4 527.5 L504.8 527.5 L504.8 530.1 M509.2 530.1 L509.2 527.5 L532 527.5 L532 530.1 M536.4 530.1 L536.4 527.5 L558.8 527.5 L558.8 530.1 M563.7 530.1 L563.7 527.5 L592.4 527.5 L592.4 553.3 L470.5 553.3 L470.5 538.8 L453.4 538.8"/>
</g>
<use href="#mod" x="473.2" y="499.7"/><use href="#mod" x="473.2" y="529.1"/><use href="#mod" x="500" y="499.7"/><use href="#mod" x="500" y="529.1"/><use href="#mod" x="526.8" y="499.7"/><use href="#mod" x="526.8" y="529.1"/><use href="#mod" x="553.6" y="499.7"/><use href="#mod" x="553.6" y="529.1"/>
<rect x="577.6" y="517.9" width="2" height="2" fill="#111"/><rect x="578.6" y="547.9" width="2" height="2" fill="#111"/><rect x="582.2" y="517.9" width="2" height="2" fill="#111"/><rect x="583.2" y="547.9" width="2" height="2" fill="#111"/><rect x="586.8" y="517.9" width="2" height="2" fill="#111"/><rect x="587.8" y="547.9" width="2" height="2" fill="#111"/>
<use href="#isw" x="69" y="505.5"/>
<use href="#isw" x="251" y="502.3"/>
<use href="#isw" x="431.8" y="505"/>
<g fill="none" stroke="#ffd878" stroke-width="1.3" opacity="0.78"><path d="M69 528.4 L84.6 528.4"/><path d="M69 533.9 L83 533.9"/><path d="M251 527.3 L266.4 527.3"/><path d="M251 532.3 L265.4 532.3"/><path d="M431.8 527.3 L447.2 527.3"/><path d="M431.8 530.8 L446.6 530.8"/></g>
</svg>
</body></html>
